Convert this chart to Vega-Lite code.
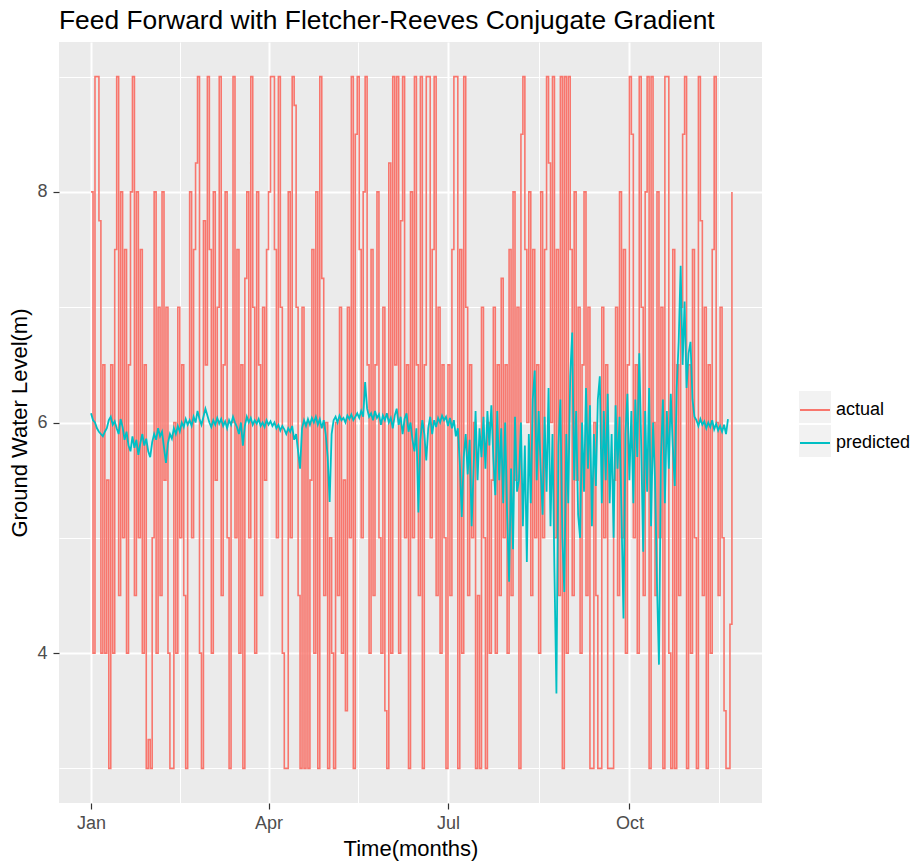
{
"$schema": "https://vega.github.io/schema/vega-lite/v6.json",
"autosize": "none",
"width": 703,
"height": 761,
"padding": {"left": 59, "top": 42, "right": 156, "bottom": 61},
"background": "white",
"config": {"view": {"fill": "#EBEBEB", "stroke": null}, "font": "Liberation Sans"},
"title": {"text": "Feed Forward with Fletcher-Reeves Conjugate Gradient", "anchor": "start", "frame": "group", "fontSize": 26.4, "fontWeight": "normal", "font": "Liberation Sans", "color": "black", "offset": 8},
"data": {"values": [
{"t":"2015-01-01","actual":8,"predicted":6.08},
{"t":"2015-01-02","actual":4,"predicted":6.02},
{"t":"2015-01-03","actual":9,"predicted":6.0},
{"t":"2015-01-04","actual":9,"predicted":5.95},
{"t":"2015-01-05","actual":7.75,"predicted":5.92},
{"t":"2015-01-06","actual":4,"predicted":5.9},
{"t":"2015-01-07","actual":6.5,"predicted":5.88},
{"t":"2015-01-08","actual":4,"predicted":5.92},
{"t":"2015-01-09","actual":5.5,"predicted":5.95},
{"t":"2015-01-10","actual":3,"predicted":6.02},
{"t":"2015-01-11","actual":6.5,"predicted":6.05},
{"t":"2015-01-12","actual":4,"predicted":5.98},
{"t":"2015-01-13","actual":7.5,"predicted":6.01},
{"t":"2015-01-14","actual":9,"predicted":5.95},
{"t":"2015-01-15","actual":4.5,"predicted":5.9},
{"t":"2015-01-16","actual":8,"predicted":6.03},
{"t":"2015-01-17","actual":5,"predicted":5.96},
{"t":"2015-01-18","actual":7.5,"predicted":5.85},
{"t":"2015-01-19","actual":4,"predicted":5.92},
{"t":"2015-01-20","actual":6.5,"predicted":5.8},
{"t":"2015-01-21","actual":8,"predicted":5.75},
{"t":"2015-01-22","actual":9,"predicted":5.88},
{"t":"2015-01-23","actual":4.5,"predicted":5.78},
{"t":"2015-01-24","actual":8,"predicted":5.85},
{"t":"2015-01-25","actual":5,"predicted":5.72},
{"t":"2015-01-26","actual":7.5,"predicted":5.82},
{"t":"2015-01-27","actual":4,"predicted":5.9},
{"t":"2015-01-28","actual":6.5,"predicted":5.8},
{"t":"2015-01-29","actual":3,"predicted":5.86},
{"t":"2015-01-30","actual":3.25,"predicted":5.75},
{"t":"2015-01-31","actual":3,"predicted":5.7},
{"t":"2015-02-01","actual":5,"predicted":5.83},
{"t":"2015-02-02","actual":8,"predicted":5.9},
{"t":"2015-02-03","actual":4,"predicted":5.85},
{"t":"2015-02-04","actual":7,"predicted":5.95},
{"t":"2015-02-05","actual":4.5,"predicted":5.88},
{"t":"2015-02-06","actual":8,"predicted":5.92},
{"t":"2015-02-07","actual":5.5,"predicted":5.78},
{"t":"2015-02-08","actual":7,"predicted":5.65},
{"t":"2015-02-09","actual":4,"predicted":5.82},
{"t":"2015-02-10","actual":3,"predicted":5.9},
{"t":"2015-02-11","actual":3,"predicted":5.86},
{"t":"2015-02-12","actual":6,"predicted":5.95},
{"t":"2015-02-13","actual":4,"predicted":5.9},
{"t":"2015-02-14","actual":7,"predicted":5.97},
{"t":"2015-02-15","actual":5,"predicted":5.92},
{"t":"2015-02-16","actual":6.5,"predicted":6.0},
{"t":"2015-02-17","actual":4.5,"predicted":5.96},
{"t":"2015-02-18","actual":3,"predicted":6.03},
{"t":"2015-02-19","actual":6,"predicted":5.98},
{"t":"2015-02-20","actual":8,"predicted":6.02},
{"t":"2015-02-21","actual":5,"predicted":5.97},
{"t":"2015-02-22","actual":7.5,"predicted":6.05},
{"t":"2015-02-23","actual":8.25,"predicted":6.0},
{"t":"2015-02-24","actual":9,"predicted":6.1},
{"t":"2015-02-25","actual":4,"predicted":6.03},
{"t":"2015-02-26","actual":3,"predicted":5.98},
{"t":"2015-02-27","actual":7.75,"predicted":6.05},
{"t":"2015-02-28","actual":6.5,"predicted":6.12},
{"t":"2015-03-01","actual":9,"predicted":6.06},
{"t":"2015-03-02","actual":7.5,"predicted":6.0},
{"t":"2015-03-03","actual":4,"predicted":5.96},
{"t":"2015-03-04","actual":8,"predicted":6.02},
{"t":"2015-03-05","actual":5.5,"predicted":5.98},
{"t":"2015-03-06","actual":7,"predicted":6.04},
{"t":"2015-03-07","actual":9,"predicted":5.99},
{"t":"2015-03-08","actual":4.5,"predicted":6.03},
{"t":"2015-03-09","actual":6.5,"predicted":5.97},
{"t":"2015-03-10","actual":8,"predicted":6.01},
{"t":"2015-03-11","actual":5,"predicted":5.95},
{"t":"2015-03-12","actual":3,"predicted":6.02},
{"t":"2015-03-13","actual":6,"predicted":5.98},
{"t":"2015-03-14","actual":9,"predicted":6.05},
{"t":"2015-03-15","actual":5,"predicted":6.0},
{"t":"2015-03-16","actual":7.5,"predicted":5.96},
{"t":"2015-03-17","actual":4,"predicted":5.9},
{"t":"2015-03-18","actual":6.5,"predicted":6.0},
{"t":"2015-03-19","actual":3,"predicted":5.8},
{"t":"2015-03-20","actual":7.25,"predicted":5.97},
{"t":"2015-03-21","actual":8,"predicted":6.05},
{"t":"2015-03-22","actual":5,"predicted":6.0},
{"t":"2015-03-23","actual":9,"predicted":6.04},
{"t":"2015-03-24","actual":7,"predicted":5.98},
{"t":"2015-03-25","actual":4,"predicted":6.02},
{"t":"2015-03-26","actual":8,"predicted":5.99},
{"t":"2015-03-27","actual":6.5,"predicted":6.03},
{"t":"2015-03-28","actual":4.5,"predicted":5.97},
{"t":"2015-03-29","actual":7,"predicted":6.0},
{"t":"2015-03-30","actual":5.5,"predicted":5.96},
{"t":"2015-03-31","actual":7.5,"predicted":6.02},
{"t":"2015-04-01","actual":8,"predicted":5.98},
{"t":"2015-04-02","actual":9,"predicted":6.01},
{"t":"2015-04-03","actual":9,"predicted":5.97},
{"t":"2015-04-04","actual":7.5,"predicted":6.0},
{"t":"2015-04-05","actual":5,"predicted":5.95},
{"t":"2015-04-06","actual":9,"predicted":5.98},
{"t":"2015-04-07","actual":7,"predicted":5.93},
{"t":"2015-04-08","actual":4,"predicted":5.97},
{"t":"2015-04-09","actual":3,"predicted":5.94},
{"t":"2015-04-10","actual":3,"predicted":5.9},
{"t":"2015-04-11","actual":8,"predicted":5.95},
{"t":"2015-04-12","actual":5,"predicted":5.92},
{"t":"2015-04-13","actual":9,"predicted":5.97},
{"t":"2015-04-14","actual":8.75,"predicted":5.85},
{"t":"2015-04-15","actual":7,"predicted":5.9},
{"t":"2015-04-16","actual":4.5,"predicted":5.75},
{"t":"2015-04-17","actual":3,"predicted":5.6},
{"t":"2015-04-18","actual":7,"predicted":5.95},
{"t":"2015-04-19","actual":3,"predicted":6.02},
{"t":"2015-04-20","actual":6,"predicted":5.97},
{"t":"2015-04-21","actual":3,"predicted":6.03},
{"t":"2015-04-22","actual":5.5,"predicted":5.98},
{"t":"2015-04-23","actual":7.5,"predicted":6.04},
{"t":"2015-04-24","actual":4,"predicted":6.0},
{"t":"2015-04-25","actual":8,"predicted":6.05},
{"t":"2015-04-26","actual":3,"predicted":5.98},
{"t":"2015-04-27","actual":9,"predicted":6.03},
{"t":"2015-04-28","actual":7.25,"predicted":5.95},
{"t":"2015-04-29","actual":4.5,"predicted":6.02},
{"t":"2015-04-30","actual":6,"predicted":5.9},
{"t":"2015-05-01","actual":3,"predicted":5.7},
{"t":"2015-05-02","actual":5,"predicted":5.31},
{"t":"2015-05-03","actual":4,"predicted":5.9},
{"t":"2015-05-04","actual":3,"predicted":6.02},
{"t":"2015-05-05","actual":6,"predicted":6.05},
{"t":"2015-05-06","actual":4.5,"predicted":6.0},
{"t":"2015-05-07","actual":7,"predicted":6.06},
{"t":"2015-05-08","actual":4,"predicted":6.02},
{"t":"2015-05-09","actual":5.5,"predicted":6.04},
{"t":"2015-05-10","actual":3.5,"predicted":6.0},
{"t":"2015-05-11","actual":7,"predicted":6.06},
{"t":"2015-05-12","actual":5,"predicted":6.03},
{"t":"2015-05-13","actual":9,"predicted":6.07},
{"t":"2015-05-14","actual":3,"predicted":6.02},
{"t":"2015-05-15","actual":8.5,"predicted":6.05},
{"t":"2015-05-16","actual":9,"predicted":6.08},
{"t":"2015-05-17","actual":7.5,"predicted":6.04},
{"t":"2015-05-18","actual":5,"predicted":6.1},
{"t":"2015-05-19","actual":8,"predicted":6.05},
{"t":"2015-05-20","actual":9,"predicted":6.35},
{"t":"2015-05-21","actual":6.5,"predicted":6.12},
{"t":"2015-05-22","actual":4,"predicted":6.05},
{"t":"2015-05-23","actual":7.5,"predicted":6.08},
{"t":"2015-05-24","actual":4.5,"predicted":6.02},
{"t":"2015-05-25","actual":6.5,"predicted":6.1},
{"t":"2015-05-26","actual":8,"predicted":6.04},
{"t":"2015-05-27","actual":5,"predicted":6.07},
{"t":"2015-05-28","actual":4,"predicted":5.98},
{"t":"2015-05-29","actual":7,"predicted":6.06},
{"t":"2015-05-30","actual":3.5,"predicted":6.02},
{"t":"2015-05-31","actual":3,"predicted":6.08},
{"t":"2015-06-01","actual":8.25,"predicted":6.0},
{"t":"2015-06-02","actual":4,"predicted":6.04},
{"t":"2015-06-03","actual":9,"predicted":5.95},
{"t":"2015-06-04","actual":6.5,"predicted":6.06},
{"t":"2015-06-05","actual":9,"predicted":6.12},
{"t":"2015-06-06","actual":4,"predicted":5.98},
{"t":"2015-06-07","actual":7.75,"predicted":6.05},
{"t":"2015-06-08","actual":9,"predicted":5.9},
{"t":"2015-06-09","actual":5,"predicted":6.03},
{"t":"2015-06-10","actual":6.5,"predicted":6.08},
{"t":"2015-06-11","actual":3,"predicted":5.92},
{"t":"2015-06-12","actual":8,"predicted":6.0},
{"t":"2015-06-13","actual":5,"predicted":5.85},
{"t":"2015-06-14","actual":9,"predicted":5.75},
{"t":"2015-06-15","actual":6.5,"predicted":5.95},
{"t":"2015-06-16","actual":4.5,"predicted":5.22},
{"t":"2015-06-17","actual":9,"predicted":5.85},
{"t":"2015-06-18","actual":3,"predicted":6.02},
{"t":"2015-06-19","actual":6.5,"predicted":5.9},
{"t":"2015-06-20","actual":9,"predicted":5.67},
{"t":"2015-06-21","actual":9,"predicted":5.95},
{"t":"2015-06-22","actual":5,"predicted":6.05},
{"t":"2015-06-23","actual":7.5,"predicted":5.9},
{"t":"2015-06-24","actual":9,"predicted":6.02},
{"t":"2015-06-25","actual":4.5,"predicted":5.96},
{"t":"2015-06-26","actual":7,"predicted":6.04},
{"t":"2015-06-27","actual":4,"predicted":6.0},
{"t":"2015-06-28","actual":6.5,"predicted":6.06},
{"t":"2015-06-29","actual":5,"predicted":6.02},
{"t":"2015-06-30","actual":3,"predicted":6.05},
{"t":"2015-07-01","actual":6.5,"predicted":5.97},
{"t":"2015-07-02","actual":4.5,"predicted":6.04},
{"t":"2015-07-03","actual":7.5,"predicted":5.95},
{"t":"2015-07-04","actual":9,"predicted":6.02},
{"t":"2015-07-05","actual":9,"predicted":5.88},
{"t":"2015-07-06","actual":3,"predicted":5.95},
{"t":"2015-07-07","actual":7.5,"predicted":5.65},
{"t":"2015-07-08","actual":4,"predicted":5.18},
{"t":"2015-07-09","actual":9,"predicted":5.7},
{"t":"2015-07-10","actual":7,"predicted":5.9},
{"t":"2015-07-11","actual":4.5,"predicted":5.55},
{"t":"2015-07-12","actual":6.5,"predicted":5.85},
{"t":"2015-07-13","actual":5,"predicted":5.1},
{"t":"2015-07-14","actual":6,"predicted":5.6},
{"t":"2015-07-15","actual":3,"predicted":6.1},
{"t":"2015-07-16","actual":4.5,"predicted":5.5},
{"t":"2015-07-17","actual":3,"predicted":5.95},
{"t":"2015-07-18","actual":7,"predicted":5.7},
{"t":"2015-07-19","actual":5,"predicted":6.05},
{"t":"2015-07-20","actual":3,"predicted":5.6},
{"t":"2015-07-21","actual":6,"predicted":6.1},
{"t":"2015-07-22","actual":4,"predicted":5.8},
{"t":"2015-07-23","actual":5.5,"predicted":6.15},
{"t":"2015-07-24","actual":7,"predicted":5.7},
{"t":"2015-07-25","actual":4,"predicted":5.37},
{"t":"2015-07-26","actual":6.5,"predicted":6.1},
{"t":"2015-07-27","actual":4.5,"predicted":5.5},
{"t":"2015-07-28","actual":7.25,"predicted":5.95},
{"t":"2015-07-29","actual":5,"predicted":5.3},
{"t":"2015-07-30","actual":6.5,"predicted":6.0},
{"t":"2015-07-31","actual":4,"predicted":5.2},
{"t":"2015-08-01","actual":7.5,"predicted":4.62},
{"t":"2015-08-02","actual":4.5,"predicted":5.6},
{"t":"2015-08-03","actual":8,"predicted":4.9},
{"t":"2015-08-04","actual":5.5,"predicted":6.05},
{"t":"2015-08-05","actual":7,"predicted":5.4},
{"t":"2015-08-06","actual":3,"predicted":5.5},
{"t":"2015-08-07","actual":8.5,"predicted":6.0},
{"t":"2015-08-08","actual":9,"predicted":5.1},
{"t":"2015-08-09","actual":7.5,"predicted":5.8},
{"t":"2015-08-10","actual":6,"predicted":4.79},
{"t":"2015-08-11","actual":8,"predicted":5.9},
{"t":"2015-08-12","actual":4.5,"predicted":5.3},
{"t":"2015-08-13","actual":7.5,"predicted":6.2},
{"t":"2015-08-14","actual":5,"predicted":6.45},
{"t":"2015-08-15","actual":6.5,"predicted":5.5},
{"t":"2015-08-16","actual":4,"predicted":6.1},
{"t":"2015-08-17","actual":8,"predicted":5.6},
{"t":"2015-08-18","actual":5,"predicted":5.2},
{"t":"2015-08-19","actual":7.5,"predicted":6.05},
{"t":"2015-08-20","actual":9,"predicted":5.4},
{"t":"2015-08-21","actual":8.25,"predicted":6.3},
{"t":"2015-08-22","actual":6,"predicted":5.1},
{"t":"2015-08-23","actual":9,"predicted":5.9},
{"t":"2015-08-24","actual":5,"predicted":4.7},
{"t":"2015-08-25","actual":7.5,"predicted":3.65},
{"t":"2015-08-26","actual":4.5,"predicted":5.8},
{"t":"2015-08-27","actual":9,"predicted":6.2},
{"t":"2015-08-28","actual":3,"predicted":5.0},
{"t":"2015-08-29","actual":9,"predicted":4.53},
{"t":"2015-08-30","actual":4,"predicted":5.9},
{"t":"2015-08-31","actual":9,"predicted":5.3},
{"t":"2015-09-01","actual":7.5,"predicted":6.4},
{"t":"2015-09-02","actual":4.5,"predicted":6.78},
{"t":"2015-09-03","actual":8,"predicted":5.5},
{"t":"2015-09-04","actual":5.5,"predicted":6.1},
{"t":"2015-09-05","actual":7,"predicted":5.2},
{"t":"2015-09-06","actual":4,"predicted":5.0},
{"t":"2015-09-07","actual":6.5,"predicted":6.0},
{"t":"2015-09-08","actual":8,"predicted":5.4},
{"t":"2015-09-09","actual":4.5,"predicted":6.3},
{"t":"2015-09-10","actual":7,"predicted":5.6},
{"t":"2015-09-11","actual":3,"predicted":6.15},
{"t":"2015-09-12","actual":3,"predicted":5.1},
{"t":"2015-09-13","actual":6,"predicted":5.9},
{"t":"2015-09-14","actual":4.5,"predicted":5.45},
{"t":"2015-09-15","actual":3,"predicted":6.2},
{"t":"2015-09-16","actual":3,"predicted":6.4},
{"t":"2015-09-17","actual":7,"predicted":5.3},
{"t":"2015-09-18","actual":5,"predicted":6.1},
{"t":"2015-09-19","actual":6.5,"predicted":5.5},
{"t":"2015-09-20","actual":3,"predicted":6.25},
{"t":"2015-09-21","actual":3,"predicted":5.3},
{"t":"2015-09-22","actual":3,"predicted":5.9},
{"t":"2015-09-23","actual":5.5,"predicted":5.0},
{"t":"2015-09-24","actual":7,"predicted":6.15},
{"t":"2015-09-25","actual":4.5,"predicted":5.6},
{"t":"2015-09-26","actual":8,"predicted":6.05},
{"t":"2015-09-27","actual":5,"predicted":5.2},
{"t":"2015-09-28","actual":7.5,"predicted":4.3},
{"t":"2015-09-29","actual":4,"predicted":5.9},
{"t":"2015-09-30","actual":6.5,"predicted":6.25},
{"t":"2015-10-01","actual":9,"predicted":5.5},
{"t":"2015-10-02","actual":8.5,"predicted":6.1},
{"t":"2015-10-03","actual":5,"predicted":5.3},
{"t":"2015-10-04","actual":6.5,"predicted":6.2},
{"t":"2015-10-05","actual":4,"predicted":5.7},
{"t":"2015-10-06","actual":9,"predicted":6.6},
{"t":"2015-10-07","actual":7,"predicted":5.8},
{"t":"2015-10-08","actual":4.5,"predicted":4.88},
{"t":"2015-10-09","actual":8,"predicted":6.1},
{"t":"2015-10-10","actual":9,"predicted":5.4},
{"t":"2015-10-11","actual":3,"predicted":6.3},
{"t":"2015-10-12","actual":9,"predicted":5.1},
{"t":"2015-10-13","actual":6,"predicted":6.0},
{"t":"2015-10-14","actual":4.5,"predicted":5.5},
{"t":"2015-10-15","actual":8,"predicted":4.6},
{"t":"2015-10-16","actual":5,"predicted":3.9},
{"t":"2015-10-17","actual":7,"predicted":5.7},
{"t":"2015-10-18","actual":3,"predicted":6.2},
{"t":"2015-10-19","actual":9,"predicted":5.3},
{"t":"2015-10-20","actual":9,"predicted":6.1},
{"t":"2015-10-21","actual":4,"predicted":5.6},
{"t":"2015-10-22","actual":3,"predicted":6.25},
{"t":"2015-10-23","actual":7.5,"predicted":5.8},
{"t":"2015-10-24","actual":3,"predicted":5.45},
{"t":"2015-10-25","actual":6.5,"predicted":6.3},
{"t":"2015-10-26","actual":4.5,"predicted":6.7},
{"t":"2015-10-27","actual":7,"predicted":7.36},
{"t":"2015-10-28","actual":8.5,"predicted":6.5},
{"t":"2015-10-29","actual":9,"predicted":7.05},
{"t":"2015-10-30","actual":3,"predicted":6.3},
{"t":"2015-10-31","actual":6.5,"predicted":6.6},
{"t":"2015-11-01","actual":4,"predicted":6.7},
{"t":"2015-11-02","actual":7.5,"predicted":6.2},
{"t":"2015-11-03","actual":5,"predicted":6.05},
{"t":"2015-11-04","actual":3,"predicted":6.02},
{"t":"2015-11-05","actual":9,"predicted":5.97},
{"t":"2015-11-06","actual":7.75,"predicted":6.03},
{"t":"2015-11-07","actual":4.5,"predicted":5.98},
{"t":"2015-11-08","actual":7,"predicted":6.01},
{"t":"2015-11-09","actual":3,"predicted":5.95},
{"t":"2015-11-10","actual":6.5,"predicted":6.0},
{"t":"2015-11-11","actual":4,"predicted":5.96},
{"t":"2015-11-12","actual":7.5,"predicted":6.02},
{"t":"2015-11-13","actual":9,"predicted":5.94},
{"t":"2015-11-14","actual":6,"predicted":5.99},
{"t":"2015-11-15","actual":4.5,"predicted":5.93},
{"t":"2015-11-16","actual":7,"predicted":5.97},
{"t":"2015-11-17","actual":5,"predicted":5.92},
{"t":"2015-11-18","actual":3.5,"predicted":5.98},
{"t":"2015-11-19","actual":3,"predicted":5.9},
{"t":"2015-11-20","actual":3,"predicted":6.03},
{"t":"2015-11-21","actual":4.25},
{"t":"2015-11-22","actual":8}
]},
"transform": [{"fold": ["actual", "predicted"], "as": ["series", "value"]}],
"encoding": {
  "x": {"field": "t", "type": "temporal",
    "scale": {"type": "utc", "domain": [{"year": 2014, "month": 12, "date": 15, "hours": 18, "utc": true}, {"year": 2015, "month": 12, "date": 7, "hours": 6, "utc": true}]},
    "axis": {"title": "Time(months)", "grid": true, "domain": false,
      "values": [{"year": 2015, "month": 1, "date": 1, "utc": true}, {"year": 2015, "month": 2, "date": 15, "utc": true}, {"year": 2015, "month": 4, "date": 1, "utc": true}, {"year": 2015, "month": 5, "date": 16, "hours": 12, "utc": true}, {"year": 2015, "month": 7, "date": 1, "utc": true}, {"year": 2015, "month": 8, "date": 16, "utc": true}, {"year": 2015, "month": 10, "date": 1, "utc": true}, {"year": 2015, "month": 11, "date": 15, "hours": 12, "utc": true}],
      "labelExpr": "utcmonth(datum.value) % 3 == 0 ? utcFormat(datum.value, '%b') : ''",
      "gridColor": "white",
      "gridWidth": {"condition": {"test": "utcmonth(datum.value) % 3 == 1", "value": 1}, "value": 2},
      "tickOpacity": {"condition": {"test": "utcmonth(datum.value) % 3 == 1", "value": 0}, "value": 1},
      "tickColor": "#333333", "tickSize": 6, "tickWidth": 1.2,
      "labelFontSize": 18, "labelColor": "#4D4D4D", "labelPadding": 5, "labelFlush": false, "labelOverlap": false, "labelFont": "Liberation Sans",
      "titleFontSize": 22, "titleFontWeight": "normal", "titleColor": "black", "titlePadding": 6, "titleFont": "Liberation Sans"}},
  "y": {"field": "value", "type": "quantitative",
    "scale": {"domain": [2.7, 9.3], "nice": false, "zero": false},
    "axis": {"title": "Ground Water Level(m)", "grid": true, "domain": false,
      "values": [3, 4, 5, 6, 7, 8, 9],
      "labelExpr": "datum.value % 2 == 0 ? datum.label : ''",
      "gridColor": "white",
      "gridWidth": {"condition": {"test": "datum.value % 2 == 1", "value": 1}, "value": 2},
      "tickOpacity": {"condition": {"test": "datum.value % 2 == 1", "value": 0}, "value": 1},
      "tickColor": "#333333", "tickSize": 6, "tickWidth": 1.2,
      "labelFontSize": 18, "labelColor": "#4D4D4D", "labelPadding": 6, "labelFont": "Liberation Sans",
      "titleFontSize": 22, "titleFontWeight": "normal", "titleColor": "black", "titlePadding": 5, "titleFont": "Liberation Sans"}}
},
"layer": [
  {"mark": {"type": "point", "shape": "square", "filled": true, "size": 0},
   "encoding": {"fill": {"field": "series", "type": "nominal",
     "scale": {"domain": ["actual", "predicted"], "range": ["#F2F2F2", "#F2F2F2"]},
     "legend": {"title": null, "orient": "none", "legendX": 740, "legendY": 349, "padding": 0, "zindex": 0,
       "symbolType": "square", "symbolSize": 1024, "symbolStrokeWidth": 0, "symbolOpacity": 1, "rowPadding": 2,
       "labelFontSize": 1, "labelOpacity": 0, "labelOffset": 0, "labelExpr": "''"}}}},
  {"transform": [{"filter": "datum.series == 'actual'"}],
   "mark": {"type": "line", "interpolate": "step-after", "strokeWidth": 1.6},
   "encoding": {"color": {"field": "series", "type": "nominal",
     "scale": {"range": ["#F8766D", "#00BFC4"]},
     "legend": {"title": null, "orient": "none", "legendX": 740, "legendY": 352, "padding": 0, "zindex": 1,
       "symbolType": "stroke", "symbolSize": 900, "symbolStrokeWidth": 2, "rowPadding": 8,
       "labelFontSize": 18, "labelColor": "black", "labelOffset": 5, "labelFont": "Liberation Sans"}}}},
  {"transform": [{"filter": "datum.series == 'predicted'"}],
   "mark": {"type": "line", "strokeWidth": 1.8},
   "encoding": {"color": {"field": "series", "type": "nominal",
     "scale": {"range": ["#F8766D", "#00BFC4"]},
     "legend": {"title": null, "orient": "none", "legendX": 740, "legendY": 352, "padding": 0, "zindex": 1,
       "symbolType": "stroke", "symbolSize": 900, "symbolStrokeWidth": 2, "rowPadding": 8,
       "labelFontSize": 18, "labelColor": "black", "labelOffset": 5, "labelFont": "Liberation Sans"}}}}
]
}
